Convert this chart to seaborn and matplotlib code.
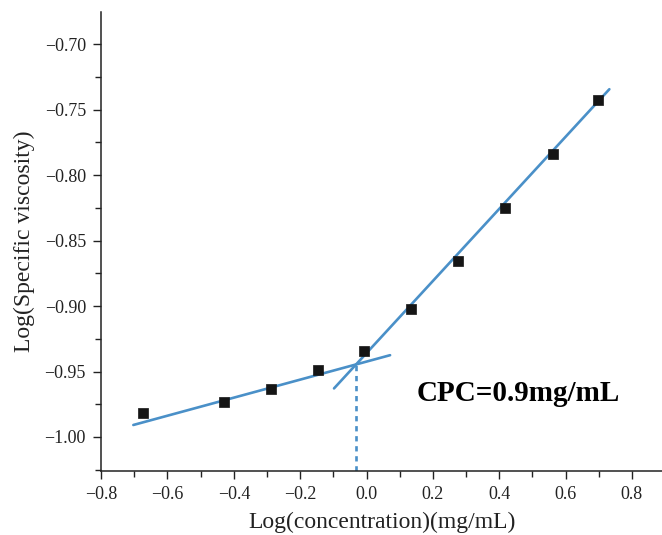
import numpy as np
import pandas as pd
import matplotlib
matplotlib.use("Agg")
import matplotlib.pyplot as plt
import seaborn as sns
from matplotlib.ticker import MultipleLocator, AutoMinorLocator

# ---- data ----
log_conc = [-0.675, -0.429, -0.288, -0.147, -0.007, 0.134, 0.276, 0.417, 0.561, 0.699]
log_visc = [-0.9815, -0.9733, -0.9636, -0.9489, -0.9342, -0.9026, -0.8658, -0.8251, -0.7836, -0.7424]

# fitted lines (slope, intercept, x-range)
low_slope, low_intercept = 0.0689, -0.9424
low_x = [-0.703, 0.071]
high_slope, high_intercept = 0.2754, -0.9359
high_x = [-0.098, 0.732]

cpc_text = "CPC=0.9mg/mL"
xlabel = "Log(concentration)(mg/mL)"
ylabel = "Log(Specific viscosity)"

df = pd.DataFrame({"x": log_conc, "y": log_visc})
low_df = pd.DataFrame({"x": low_x, "y": [low_slope * v + low_intercept for v in low_x]})
high_df = pd.DataFrame({"x": high_x, "y": [high_slope * v + high_intercept for v in high_x]})

# intersection of the two lines
x_cross = (high_intercept - low_intercept) / (low_slope - high_slope)
y_cross = low_slope * x_cross + low_intercept

sns.set_style("ticks")
plt.rcParams["font.family"] = ["Liberation Serif", "DejaVu Serif"]

fig = plt.figure(figsize=(6.62, 5.35), dpi=100)
ax = fig.add_axes([0.1528, 0.1196, 0.8472, 0.858])

blue = "#4a90c8"
sns.lineplot(data=low_df, x="x", y="y", ax=ax, color=blue, linewidth=1.9)
sns.lineplot(data=high_df, x="x", y="y", ax=ax, color=blue, linewidth=1.9)
ymin = -1.026
ax.plot([x_cross, x_cross], [ymin, y_cross], color=blue, linewidth=1.9,
        linestyle=(0, (2.0, 1.8)))
sns.scatterplot(data=df, x="x", y="y", ax=ax, marker="s", s=62, color="#151515",
                edgecolor="#151515", linewidth=0.5, zorder=5)

ax.set_xlim(-0.8, 0.8907)
ax.set_ylim(ymin, -0.6753)
ax.xaxis.set_major_locator(MultipleLocator(0.2))
ax.xaxis.set_minor_locator(AutoMinorLocator(2))
ax.yaxis.set_major_locator(MultipleLocator(0.05))
ax.yaxis.set_minor_locator(AutoMinorLocator(2))
ax.tick_params(axis="both", which="major", direction="out", length=6, width=1.0,
               labelsize=13, colors="#222222", pad=5)
ax.tick_params(axis="both", which="minor", direction="out", length=4, width=1.0,
               colors="#222222")
for s in ["top", "right"]:
    ax.spines[s].set_visible(False)
for s in ["left", "bottom"]:
    ax.spines[s].set_linewidth(1.1)
    ax.spines[s].set_color("#222222")

ax.set_xlabel(xlabel, fontsize=17, color="#222222", labelpad=6)
ax.set_ylabel(ylabel, fontsize=17, color="#222222", labelpad=7)

ax.text(0.152, -0.9664, cpc_text, fontsize=21, fontweight="bold",
        family=["Liberation Serif"], va="center", ha="left", color="black")

fig.savefig("out.png", dpi=100)
